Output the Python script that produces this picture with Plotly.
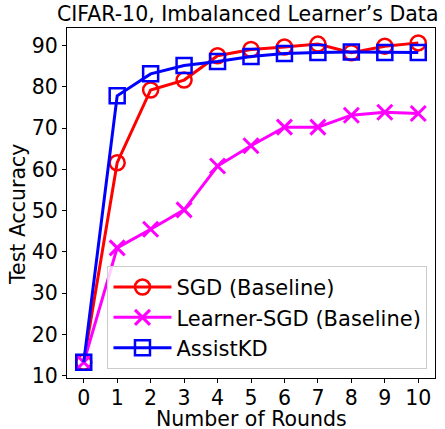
import plotly.graph_objects as go

rounds = [0, 1, 2, 3, 4, 5, 6, 7, 8, 9, 10]
sgd = [13.3, 61.6, 79.2, 81.6, 87.5, 89.0, 89.6, 90.3, 88.2, 89.8, 90.6]
learner_sgd = [13.3, 41.0, 45.5, 50.2, 60.8, 65.7, 70.2, 70.2, 73.1, 73.8, 73.5]
assistkd = [13.3, 77.8, 83.1, 85.1, 86.1, 87.3, 88.0, 88.3, 88.4, 88.3, 88.3]

x_ticks = list(range(0, 11))
y_ticks = [10, 20, 30, 40, 50, 60, 70, 80, 90]

font = "DejaVu Sans"
FS = 20.5

fig = go.Figure()
fig.add_trace(go.Scatter(
    x=rounds, y=sgd, name="SGD (Baseline)", mode="lines+markers",
    line=dict(color="#ff0000", width=3),
    marker=dict(symbol="circle-open", size=15, color="#ff0000", line=dict(width=2.5, color="#ff0000")),
))
fig.add_trace(go.Scatter(
    x=rounds, y=learner_sgd, name="Learner-SGD (Baseline)", mode="lines+markers",
    line=dict(color="#ff00ff", width=3),
    marker=dict(symbol="x-thin-open", size=15, color="#ff00ff", line=dict(width=3, color="#ff00ff")),
))
fig.add_trace(go.Scatter(
    x=rounds, y=assistkd, name="AssistKD", mode="lines+markers",
    line=dict(color="#0000ff", width=3),
    marker=dict(symbol="square-open", size=15, color="#0000ff", line=dict(width=2.5, color="#0000ff")),
))

fig.update_layout(
    width=445, height=429,
    margin=dict(l=67, r=10, t=28, b=51, autoexpand=False),
    paper_bgcolor="white", plot_bgcolor="white",
    font=dict(family=font, color="black", size=FS),
    xaxis=dict(range=[-0.5, 10.5], tickvals=x_ticks, ticktext=[str(v) for v in x_ticks],
               showgrid=False, zeroline=False, showline=True, linecolor="black", linewidth=1.2,
               mirror=True, ticks="outside", ticklen=4, tickcolor="black", automargin=False,
               ticklabelstandoff=-3, tickfont=dict(size=FS)),
    yaxis=dict(range=[9.5, 94.2], tickvals=y_ticks, ticktext=[str(v) for v in y_ticks],
               showgrid=False, zeroline=False, showline=True, linecolor="black", linewidth=1.2,
               mirror=True, ticks="outside", ticklen=4, tickcolor="black", automargin=False,
               tickfont=dict(size=FS)),
    legend=dict(x=0.11, y=0.026, xanchor="left", yanchor="bottom",
                bgcolor="rgba(255,255,255,0.8)", bordercolor="#cccccc", borderwidth=1,
                font=dict(size=21), itemwidth=58, tracegroupgap=0),
    showlegend=True,
    annotations=[
        dict(text="CIFAR-10, Imbalanced Learner’s Data", xref="paper", yref="paper",
             x=(247 - 67) / 368, y=1 + (28 - 14) / 350, xanchor="center", yanchor="middle",
             showarrow=False, font=dict(size=FS)),
        dict(text="Number of Rounds", xref="paper", yref="paper",
             x=(251 - 67) / 368, y=-(419 - 378) / 350, xanchor="center", yanchor="middle",
             showarrow=False, borderpad=0, font=dict(size=FS)),
        dict(text="Test Accuracy", xref="paper", yref="paper",
             x=(18 - 67) / 368, y=(378 - 215) / 350, xanchor="center", yanchor="middle",
             textangle=-90, showarrow=False, font=dict(size=FS)),
    ],
)

fig.write_html("out.html", config={"displayModeBar": False},
               post_script="document.body.style.margin='0px';")
